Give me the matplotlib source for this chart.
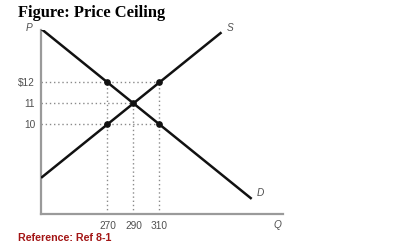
import matplotlib
matplotlib.use("Agg")
import matplotlib.pyplot as plt

# Data
demand_q = [218.9, 380.9]
demand_p = [14.55, 6.45]
supply_q = [218.9, 357.7]
supply_p = [7.45, 14.38]
points_q = [270, 310, 290, 270, 310]
points_p = [12, 12, 11, 10, 10]
x_ticks = [270, 290, 310]
x_tick_labels = ["270", "290", "310"]
y_ticks = [10, 11, 12]
y_tick_labels = ["10", "11", "$12"]
# guide lines: (price, quantity reached)
h_guides = [(12, 310), (11, 290), (10, 310)]
v_guides = [(270, 12), (290, 11), (310, 12)]

W, H = 399, 247
fig = plt.figure(figsize=(W / 100, H / 100), dpi=100)
ax = fig.add_axes([41 / W, (H - 214) / H, (283 - 41) / W, (214 - 30) / H])
xmin, xmax = 218.85, 405.0
ymin, ymax = 5.73, 14.49
ax.set_xlim(xmin, xmax)
ax.set_ylim(ymin, ymax)

gray = "#9a9a9a"
for s in ["top", "right"]:
    ax.spines[s].set_visible(False)
for s in ["left", "bottom"]:
    ax.spines[s].set_color(gray)
    ax.spines[s].set_linewidth(1.6)

dot_kw = dict(color="#8a8a8a", linestyle=(0, (1, 2)), linewidth=1.0, zorder=1)
for p, q in h_guides:
    ax.plot([xmin, q], [p, p], **dot_kw)
for q, p in v_guides:
    ax.plot([q, q], [ymin, p], **dot_kw)

ax.plot(demand_q, demand_p, color="#111111", linewidth=1.8, zorder=3, solid_capstyle="butt")
ax.plot(supply_q, supply_p, color="#111111", linewidth=1.8, zorder=3, solid_capstyle="butt")
ax.plot(points_q, points_p, "o", color="#111111", markersize=3.8, zorder=4)

lab_kw = dict(fontsize=7.3, color="#505050", family="Liberation Sans")
ax.set_xticks(x_ticks)
ax.set_xticklabels(x_tick_labels, **lab_kw)
ax.set_yticks(y_ticks)
ax.set_yticklabels(y_tick_labels, **lab_kw)
ax.tick_params(axis="both", length=0)
ax.tick_params(axis="x", pad=5)
ax.tick_params(axis="y", pad=4.3)

ax.annotate("S", (supply_q[1], supply_p[1]), xytext=(6, 3), textcoords="offset points",
            ha="center", va="center", fontsize=7.3, style="italic", color="#505050",
            family="Liberation Sans")
ax.annotate("D", (demand_q[1], demand_p[1]), xytext=(6.5, 4.3), textcoords="offset points",
            ha="center", va="center", fontsize=7.3, style="italic", color="#505050",
            family="Liberation Sans")

fig.text(29 / W, 1 - 28 / H, "P", ha="center", va="center", fontsize=7.3, style="italic",
         color="#505050", family="Liberation Sans")
fig.text(277 / W, 1 - 225 / H, "Q", ha="center", va="center", fontsize=7.3, style="italic",
         color="#505050", family="Liberation Sans")

fig.text(18 / W, 1 - 13 / H, "Figure: Price Ceiling", ha="left", va="center",
         fontsize=11.9, fontweight="bold", family="Liberation Serif", color="black")
fig.text(18 / W, 1 - 238 / H, "Reference: Ref 8-1", ha="left", va="center",
         fontsize=7.7, fontweight="bold", family="Liberation Sans", color="#a31515")

fig.savefig("out.png", dpi=100)
